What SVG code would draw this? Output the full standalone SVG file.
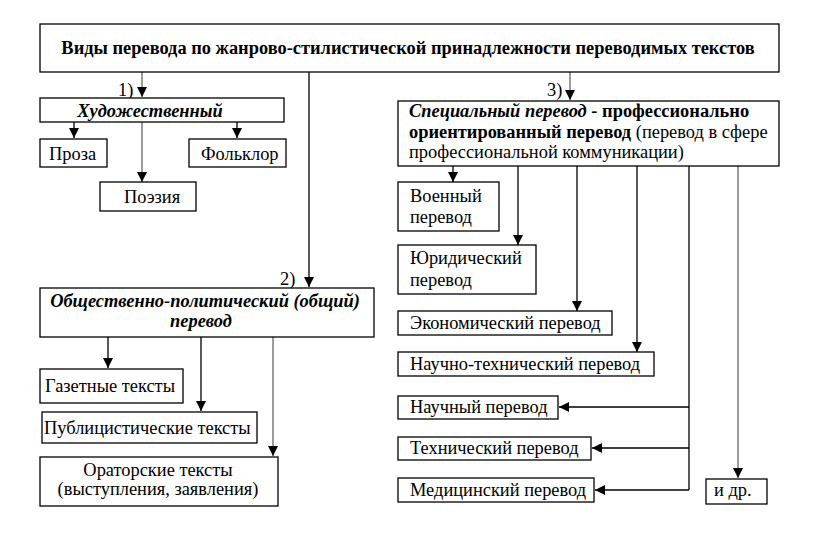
<svg xmlns="http://www.w3.org/2000/svg" width="821" height="547" viewBox="0 0 821 547">
<defs>
<marker id="ah" viewBox="0 0 10 10" refX="10" refY="5" markerWidth="10" markerHeight="10" markerUnits="userSpaceOnUse" orient="auto">
<path d="M0,0 L10,5 L0,10 z" fill="#000"/>
</marker>
</defs>
<style>
.box{fill:#fff;stroke:#000;stroke-width:1.3}
.t{font-family:"Liberation Serif","Times New Roman",serif;font-size:18.4px;fill:#000}
.b{font-weight:bold}
.bi{font-weight:bold;font-style:italic}
.c{text-anchor:middle}
.ln{fill:none;stroke:#000;stroke-width:1.3}
.g{stroke:#666}
</style>
<rect width="821" height="547" fill="#fff"/>
<g id="connectors">
<path class="ln g" d="M142,72 V97" marker-end="url(#ah)"/>
<path class="ln" d="M309,72 V287" marker-end="url(#ah)"/>
<path class="ln g" d="M570,72 V100" marker-end="url(#ah)"/>
<path class="ln" d="M74,122 V138" marker-end="url(#ah)"/>
<path class="ln g" d="M142,122 V182" marker-end="url(#ah)"/>
<path class="ln" d="M237,122 V138" marker-end="url(#ah)"/>
<path class="ln" d="M108,337 V368" marker-end="url(#ah)"/>
<path class="ln" d="M201,337 V411" marker-end="url(#ah)"/>
<path class="ln g" d="M273,337 V456" marker-end="url(#ah)"/>
<path class="ln" d="M453,166 V182" marker-end="url(#ah)"/>
<path class="ln" d="M518,166 V245" marker-end="url(#ah)"/>
<path class="ln" d="M577,166 V311" marker-end="url(#ah)"/>
<path class="ln" d="M637,166 V352" marker-end="url(#ah)"/>
<path class="ln" d="M689,166 V490"/>
<path class="ln" d="M689,407 H559" marker-end="url(#ah)"/>
<path class="ln" d="M689,448 H592" marker-end="url(#ah)"/>
<path class="ln" d="M689,490 H595" marker-end="url(#ah)"/>
<path class="ln g" d="M738,166 V478" marker-end="url(#ah)"/>
<text class="t" x="118" y="96">1)</text>
<text class="t" x="280" y="285">2)</text>
<text class="t" x="547" y="96">3)</text>
</g>
<g id="root">
<rect class="box" x="40" y="24" width="739" height="48"/>
<text class="t b c" x="408" y="54">Виды перевода по жанрово-стилистической принадлежности переводимых текстов</text>
</g>
<g id="art">
<rect class="box" x="40" y="98" width="244" height="24"/>
<text class="t bi c" x="150" y="117">Художественный</text>
</g>
<g id="prose">
<rect class="box" x="40" y="139" width="67" height="28"/>
<text class="t" x="49" y="160">Проза</text>
</g>
<g id="folk">
<rect class="box" x="189" y="139" width="97" height="28"/>
<text class="t" x="201" y="160">Фольклор</text>
</g>
<g id="poetry">
<rect class="box" x="100" y="182" width="96" height="29"/>
<text class="t" x="124" y="203">Поэзия</text>
</g>
<g id="social">
<rect class="box" x="40" y="288" width="334" height="49"/>
<text class="t bi c" x="205" y="307">Общественно-политический (общий)</text>
<text class="t bi c" x="201" y="327">перевод</text>
</g>
<g id="news">
<rect class="box" x="40" y="369" width="143" height="34"/>
<text class="t" x="45" y="392">Газетные тексты</text>
</g>
<g id="publ">
<rect class="box" x="42" y="412" width="215" height="31"/>
<text class="t" x="44" y="434">Публицистические тексты</text>
</g>
<g id="orat">
<rect class="box" x="40" y="457" width="238" height="49"/>
<text class="t c" x="158" y="476">Ораторские тексты</text>
<text class="t c" x="158" y="495">(выступления, заявления)</text>
</g>
<g id="special">
<rect class="box" x="398" y="101" width="381" height="65"/>
<text class="t" x="409" y="117"><tspan class="bi">Специальный перевод</tspan><tspan class="b"> - профессионально</tspan></text>
<text class="t" x="409" y="138"><tspan class="b">ориентированный перевод</tspan> (перевод в сфере</text>
<text class="t" x="409" y="158">профессиональной коммуникации)</text>
</g>
<g id="military">
<rect class="box" x="398" y="182" width="101" height="49"/>
<text class="t" x="410" y="202">Военный</text>
<text class="t" x="410" y="223">перевод</text>
</g>
<g id="legal">
<rect class="box" x="398" y="245" width="138" height="49"/>
<text class="t" x="410" y="264">Юридический</text>
<text class="t" x="410" y="286">перевод</text>
</g>
<g id="econ">
<rect class="box" x="398" y="311" width="214" height="24"/>
<text class="t" x="410" y="329">Экономический перевод</text>
</g>
<g id="scitech">
<rect class="box" x="398" y="352" width="256" height="24"/>
<text class="t" x="410" y="370">Научно-технический перевод</text>
</g>
<g id="science">
<rect class="box" x="398" y="396" width="160" height="23"/>
<text class="t" x="410" y="413">Научный перевод</text>
</g>
<g id="tech">
<rect class="box" x="398" y="437" width="193" height="23"/>
<text class="t" x="410" y="454">Технический перевод</text>
</g>
<g id="medical">
<rect class="box" x="398" y="478" width="196" height="24"/>
<text class="t" x="410" y="496">Медицинский перевод</text>
</g>
<g id="etc">
<rect class="box" x="706" y="479" width="61" height="25"/>
<text class="t" x="714" y="496">и др.</text>
</g>
</svg>
